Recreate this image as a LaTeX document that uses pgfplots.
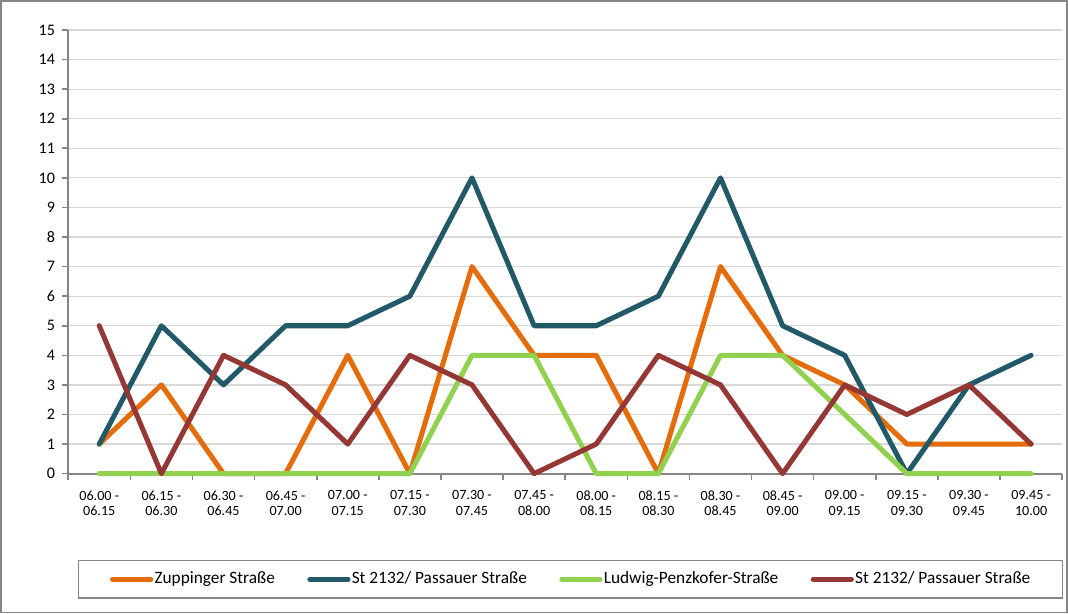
\documentclass[border=0pt]{standalone}
\usepackage{pgfplots}
\pgfplotsset{compat=1.18}
\usepackage{fontspec}
\setmainfont{Carlito}
\definecolor{cOrange}{HTML}{E46C0A}
\definecolor{cTeal}{HTML}{215968}
\definecolor{cGreen}{HTML}{92D050}
\definecolor{cRed}{HTML}{953735}
\definecolor{cAxis}{HTML}{868686}
\definecolor{cGrid}{HTML}{D9D9D9}

\begin{document}
\begin{tikzpicture}
\begin{axis}[
    scale only axis,
    width=494pt, height=220.5pt,
    xmin=-0.5, xmax=15.5,
    ymin=0, ymax=15,
    ytick={0,...,15},
    xtick={0,...,15},
    xticklabels={{06.00 -\\06.15},{06.15 -\\06.30},{06.30 -\\06.45},{06.45 -\\07.00},
                 {07.00 -\\07.15},{07.15 -\\07.30},{07.30 -\\07.45},{07.45 -\\08.00},
                 {08.00 -\\08.15},{08.15 -\\08.30},{08.30 -\\08.45},{08.45 -\\09.00},
                 {09.00 -\\09.15},{09.15 -\\09.30},{09.30 -\\09.45},{09.45 -\\10.00}},
    minor xtick={-0.5,0.5,...,15.5},
    major x tick style={draw=none},
    minor x tick style={draw=cAxis, line width=0.8pt},
    y tick style={draw=cAxis, line width=0.8pt},
    tick align=outside,
    major tick length=3pt, minor tick length=3pt,
    axis x line*=bottom, axis y line*=left,
    axis line style={draw=cAxis, line width=1pt, -},
    ymajorgrids, grid style={draw=cGrid, line width=0.6pt},
    xticklabel style={align=center, font=\fontsize{7}{7.6}\selectfont, yshift=-2pt},
    yticklabel style={font=\fontsize{8}{9}\selectfont},
    /pgf/number format/assume math mode=true,
    every axis plot/.append style={line width=2.5pt, line join=round, line cap=round, mark=none},
    legend columns=4,
    legend style={at={(0.0101,-0.195)}, anchor=north west, draw=cAxis, line width=0.6pt,
        font=\fontsize{8.6}{10}\selectfont, inner xsep=15.5pt, inner ysep=3.5pt,
        nodes={inner xsep=0.6pt},
        /tikz/every even column/.append style={column sep=15.5pt}},
    legend image code/.code={\draw[#1, line width=2.5pt, line cap=round] (0pt,0pt) -- (19pt,0pt);},
    clip=false,
]
\addplot[cOrange] coordinates {(0,1)(1,3)(2,0)(3,0)(4,4)(5,0)(6,7)(7,4)(8,4)(9,0)(10,7)(11,4)(12,3)(13,1)(14,1)(15,1)};
\addlegendentry{Zuppinger Straße}
\addplot[cTeal] coordinates {(0,1)(1,5)(2,3)(3,5)(4,5)(5,6)(6,10)(7,5)(8,5)(9,6)(10,10)(11,5)(12,4)(13,0)(14,3)(15,4)};
\addlegendentry{St 2132/ Passauer Straße}
\addplot[cGreen] coordinates {(0,0)(1,0)(2,0)(3,0)(4,0)(5,0)(6,4)(7,4)(8,0)(9,0)(10,4)(11,4)(12,2)(13,0)(14,0)(15,0)};
\addlegendentry{Ludwig-Penzkofer-Straße}
\addplot[cRed] coordinates {(0,5)(1,0)(2,4)(3,3)(4,1)(5,4)(6,3)(7,0)(8,1)(9,4)(10,3)(11,0)(12,3)(13,2)(14,3)(15,1)};
\addlegendentry{St 2132/ Passauer Straße}
\end{axis}
\draw[cAxis, line width=0.8pt] (-33.5pt,-69pt) rectangle (496.5pt,235pt);
\end{tikzpicture}
\end{document}
